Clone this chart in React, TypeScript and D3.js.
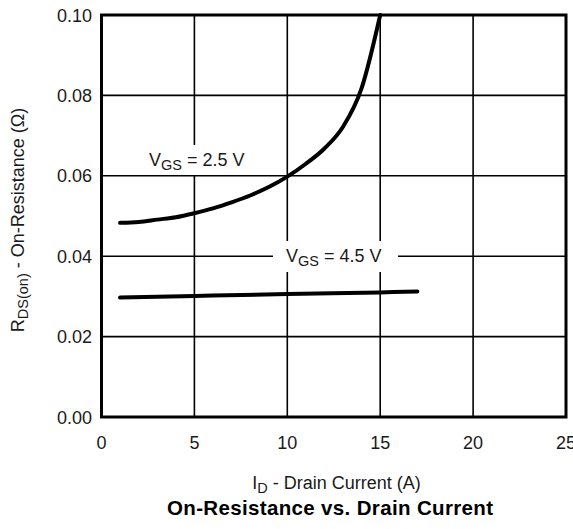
import React from "react";
import * as d3 from "d3";

const xTicks = [0, 5, 10, 15, 20, 25];
const yTicks = [0, 0.02, 0.04, 0.06, 0.08, 0.1];
const yTickLabels = ["0.00", "0.02", "0.04", "0.06", "0.08", "0.10"];

const id25 = [1, 2, 3, 4, 5, 6, 7, 8, 9, 10, 11, 12, 13, 14, 15];
const rds25 = [0.0483, 0.0485, 0.0491, 0.0497, 0.0507, 0.0519, 0.0534, 0.0551, 0.0572, 0.0598, 0.063, 0.0668, 0.0722, 0.0818, 0.1];

const id45 = [1, 5, 10, 15, 17];
const rds45 = [0.0297, 0.0301, 0.0306, 0.031, 0.0312];

const W = 573;
const H = 529;
const FONT = "'Liberation Sans', Arial, Helvetica, sans-serif";
const TXT = "#1a1a1a";

export default function App() {
  const x = d3.scaleLinear().domain([0, 25]).range([101.5, 566]);
  const y = d3.scaleLinear().domain([0, 0.1]).range([417, 15]);
  const line = d3
    .line<[number, number]>()
    .x((d) => x(d[0]))
    .y((d) => y(d[1]))
    .curve(d3.curveMonotoneX);
  const s25 = id25.map((v, i) => [v, rds25[i]] as [number, number]);
  const s45 = id45.map((v, i) => [v, rds45[i]] as [number, number]);

  return (
    <svg width={W} height={H} style={{ position: "absolute", left: 0, top: 0 }} fontFamily={FONT}>
      <rect x={0} y={0} width={W} height={H} fill="#fff" />
      {xTicks.slice(1, -1).map((t) => (
        <line key={"gx" + t} x1={x(t)} x2={x(t)} y1={y(0.1)} y2={y(0)} stroke="#000" strokeWidth={1.6} />
      ))}
      {yTicks.slice(1, -1).map((t) => (
        <line key={"gy" + t} x1={x(0)} x2={x(25)} y1={y(t)} y2={y(t)} stroke="#000" strokeWidth={1.6} />
      ))}
      {/* label masks */}
      <rect x={140} y={145} width={112} height={30} fill="#fff" />
      <rect x={273} y={241} width={125} height={31} fill="#fff" />
      <rect x={x(0)} y={y(0.1)} width={x(25) - x(0)} height={y(0) - y(0.1)} fill="none" stroke="#000" strokeWidth={3} />
      <path d={line(s25) || ""} fill="none" stroke="#000" strokeWidth={4} strokeLinecap="round" />
      <path d={line(s45) || ""} fill="none" stroke="#000" strokeWidth={4} strokeLinecap="round" />
      <text x={149} y={166} fontSize={18} fill={TXT}>
        V<tspan fontSize={14.5} dy={4}>GS</tspan>
        <tspan dy={-4}> = 2.5 V</tspan>
      </text>
      <text x={286} y={262} fontSize={18} fill={TXT}>
        V<tspan fontSize={14.5} dy={4}>GS</tspan>
        <tspan dy={-4}> = 4.5 V</tspan>
      </text>
      {yTicks.map((t, i) => (
        <text key={"yl" + t} x={92} y={y(t) + 6.5} fontSize={18} textAnchor="end" fill={TXT}>
          {yTickLabels[i]}
        </text>
      ))}
      {xTicks.map((t) => (
        <text key={"xl" + t} x={x(t)} y={449} fontSize={18} textAnchor="middle" fill={TXT}>
          {t}
        </text>
      ))}
      <text x={336.5} y={489} fontSize={18} textAnchor="middle" fill={TXT}>
        I<tspan fontSize={14.5} dy={3.5}>D</tspan>
        <tspan dy={-3.5}> - Drain Current (A)</tspan>
      </text>
      <text x={330} y={515} fontSize={20.5} fontWeight="bold" textAnchor="middle" fill="#000" textLength={326} lengthAdjust="spacing">
        On-Resistance vs. Drain Current
      </text>
      <text transform="translate(24,220) rotate(-90)" fontSize={18} textAnchor="middle" fill={TXT}>
        R<tspan fontSize={14.5} dy={4}>DS(on)</tspan>
        <tspan dy={-4}> - On-Resistance (Ω)</tspan>
      </text>
    </svg>
  );
}
